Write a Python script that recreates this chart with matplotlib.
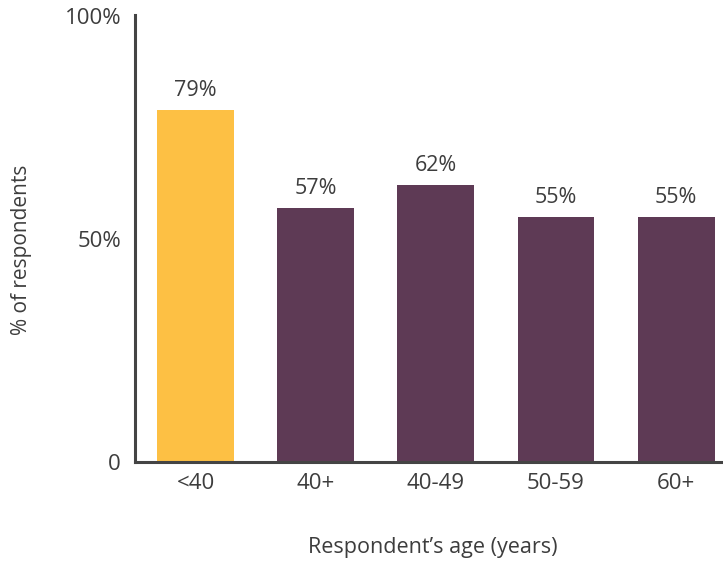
import matplotlib
matplotlib.use("Agg")
import matplotlib.pyplot as plt

categories = ["<40", "40+", "40-49", "50-59", "60+"]
values = [79, 57, 62, 55, 55]
colors = ["#FDC044", "#5E3A55", "#5E3A55", "#5E3A55", "#5E3A55"]
ytick_vals = [0, 50, 100]
ytick_labels = ["0", "50%", "100%"]

plt.rcParams['font.family'] = ['Open Sans', 'DejaVu Sans']
txt = "#3d3d3d"

fig = plt.figure(figsize=(7.23, 5.63), dpi=100)
ax = fig.add_axes([135/723, 101/563, 1 - 135/723, (462-15)/563])

x = list(range(len(categories)))
ax.bar(x, values, width=0.64, color=colors)
for xi, v in zip(x, values):
    ax.text(xi, v + 2.0, f"{v}%", ha="center", va="bottom", fontsize=15.5, color=txt)

ax.set_xlim(-0.504, 4.39)
ax.set_ylim(0, 100.2)
ax.set_yticks(ytick_vals)
ax.set_yticklabels(ytick_labels)
ax.set_xticks(x)
ax.set_xticklabels(categories)
ax.tick_params(length=0, labelsize=16, colors=txt, pad=8)
ax.tick_params(axis="y", pad=10)
for s in ["top", "right"]:
    ax.spines[s].set_visible(False)
for s in ["left", "bottom"]:
    ax.spines[s].set_color("#444444")
    ax.spines[s].set_linewidth(2.2)

ax.set_xlabel("Respondent’s age (years)", fontsize=15.5, color=txt)
ax.set_ylabel("% of respondents", fontsize=15, color=txt)
ax.xaxis.set_label_coords(0.507, -0.168)
ax.yaxis.set_label_coords(-0.176, 0.474)

fig.savefig("out.png", dpi=100)
